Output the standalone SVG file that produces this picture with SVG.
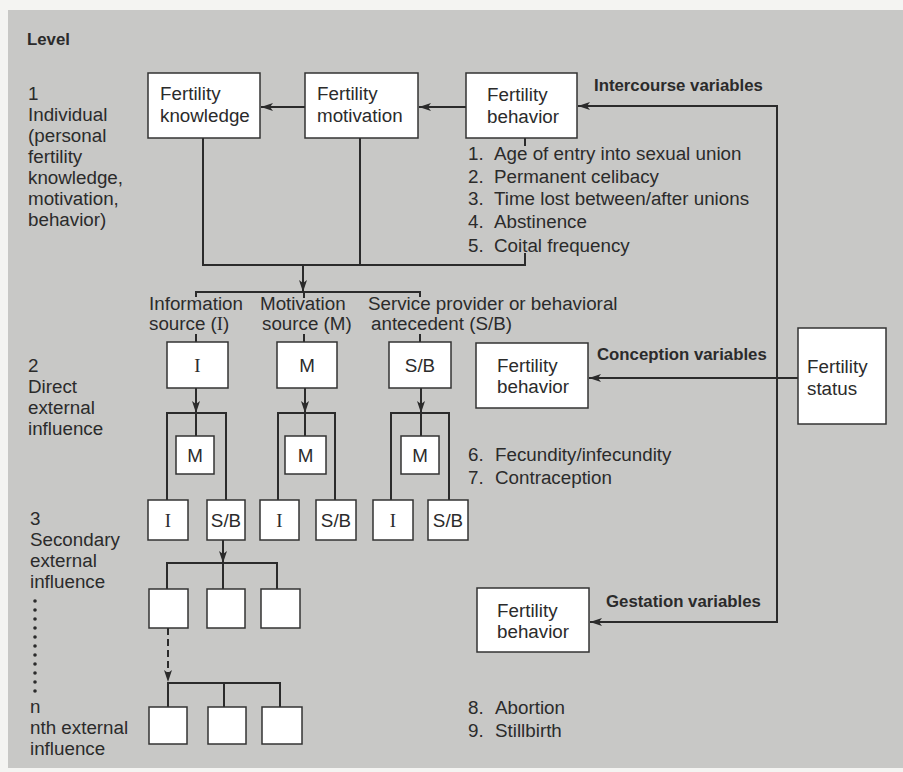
<svg xmlns="http://www.w3.org/2000/svg" width="903" height="772" viewBox="0 0 903 772">
<defs>
<marker id="ah" viewBox="0 0 12 8" refX="12" refY="4" markerWidth="12" markerHeight="8" markerUnits="userSpaceOnUse" orient="auto">
<path d="M0,0 L12,4 L0,8 L3,4 Z" fill="#2b2b2b"/>
</marker>
<style>
text{font-family:"Liberation Sans",Arial,sans-serif;fill:#2b2b2b;font-size:18.8px}
.b{font-weight:bold;font-size:16.8px}
.c{text-anchor:middle}
.s{font-family:"Liberation Serif","Times New Roman",serif}
rect.n{fill:#fff;stroke:#333;stroke-width:1.5}
.ln{fill:none;stroke:#2b2b2b;stroke-width:2}
.ar{fill:none;stroke:#2b2b2b;stroke-width:2;marker-end:url(#ah)}
</style>
</defs>
<rect x="0" y="0" width="903" height="772" fill="#f4f4f2"/>
<rect x="8" y="10" width="895" height="758" fill="#c8c8c6"/>

<g id="levels">
<text x="27" y="45" class="b">Level</text>
<text x="28" y="100">1</text>
<text x="28" y="121">Individual</text>
<text x="28" y="142">(personal</text>
<text x="28" y="163">fertility</text>
<text x="28" y="184">knowledge,</text>
<text x="28" y="205">motivation,</text>
<text x="28" y="226">behavior)</text>
<text x="28" y="372">2</text>
<text x="28" y="393">Direct</text>
<text x="28" y="414">external</text>
<text x="28" y="435">influence</text>
<text x="30" y="525">3</text>
<text x="30" y="546">Secondary</text>
<text x="30" y="567">external</text>
<text x="30" y="588">influence</text>
<g fill="#2b2b2b">
<circle cx="35" cy="601" r="1.8"/><circle cx="35" cy="610" r="1.8"/><circle cx="35" cy="619" r="1.8"/><circle cx="35" cy="628" r="1.8"/><circle cx="35" cy="637" r="1.8"/><circle cx="35" cy="646" r="1.8"/><circle cx="35" cy="655" r="1.8"/><circle cx="35" cy="664" r="1.8"/><circle cx="35" cy="673" r="1.8"/><circle cx="35" cy="682" r="1.8"/><circle cx="35" cy="691" r="1.8"/>
</g>
<text x="30" y="713">n</text>
<text x="30" y="734">nth external</text>
<text x="30" y="755">influence</text>
</g>

<g id="connectors">
<line class="ar" x1="305" y1="107" x2="261" y2="107"/>
<line class="ar" x1="466" y1="107" x2="419" y2="107"/>
<path class="ln" d="M203,138 V265 H525 V253 M525,138 V146 M360,138 V265"/>
<line class="ar" x1="303" y1="265" x2="303" y2="292"/>
<path class="ln" d="M196,297 V292 H420 V297 M196,334 V342 M304,292 V298 M304,334 V342 M420,334 V342"/>
<path class="ar" d="M777,378 V106 H578"/>
<path class="ar" d="M777,378 V622 H590"/>
<line class="ar" x1="798" y1="378" x2="589" y2="378"/>
<line class="ar" x1="196" y1="388" x2="196" y2="413"/>
<line class="ar" x1="305" y1="388" x2="305" y2="413"/>
<line class="ar" x1="421" y1="388" x2="421" y2="413"/>
<path class="ln" d="M167,500 V413 H226 V500 M196,413 V436"/>
<path class="ln" d="M278,500 V413 H335 V500 M305,413 V436"/>
<path class="ln" d="M391,500 V413 H449 V500 M421,413 V436"/>
<line class="ar" x1="223" y1="540" x2="223" y2="563"/>
<path class="ln" d="M167,589 V563 H277 V589 M223,563 V589"/>
<line class="ar" x1="168" y1="628" x2="168" y2="682" stroke-dasharray="7,4"/>
<path class="ln" d="M168,707 V683 H280 V707 M224,683 V707"/>
</g>

<g id="fertility-knowledge"><rect class="n" x="148" y="73" width="112" height="65"/><text x="160" y="100">Fertility</text><text x="160" y="122">knowledge</text></g>
<g id="fertility-motivation"><rect class="n" x="305" y="73" width="113" height="65"/><text x="317" y="100">Fertility</text><text x="317" y="122">motivation</text></g>
<g id="fertility-behavior-1"><rect class="n" x="466" y="73" width="111" height="65"/><text x="487" y="101">Fertility</text><text x="487" y="123">behavior</text></g>
<g id="intercourse-label"><text x="594" y="91" class="b">Intercourse variables</text></g>
<g id="intercourse-list">
<text x="468" y="160">1.</text><text x="494" y="160">Age of entry into sexual union</text>
<text x="468" y="183">2.</text><text x="494" y="183">Permanent celibacy</text>
<text x="468" y="205">3.</text><text x="494" y="205">Time lost between/after unions</text>
<text x="468" y="228">4.</text><text x="494" y="228">Abstinence</text>
<text x="468" y="252">5.</text><text x="494" y="252">Coital frequency</text>
</g>

<g id="source-labels">
<text x="149" y="310">Information</text><text x="149" y="330">source (<tspan class="s">I</tspan>)</text>
<text x="260" y="310">Motivation</text><text x="262" y="330">source (M)</text>
<text x="368" y="310">Service provider or behavioral</text><text x="371" y="330">antecedent (S/B)</text>
</g>

<g id="l2-I"><rect class="n" x="167" y="342" width="61" height="46"/><text x="197.5" y="372" class="c s">I</text></g>
<g id="l2-M"><rect class="n" x="277" y="342" width="60" height="46"/><text x="307" y="372" class="c">M</text></g>
<g id="l2-SB"><rect class="n" x="389" y="342" width="62" height="46"/><text x="420" y="372" class="c">S/B</text></g>

<g id="l2b-M1"><rect class="n" x="176" y="436" width="38" height="38"/><text x="195" y="462" class="c">M</text></g>
<g id="l2b-M2"><rect class="n" x="285" y="436" width="41" height="38"/><text x="305.5" y="462" class="c">M</text></g>
<g id="l2b-M3"><rect class="n" x="401" y="436" width="38" height="38"/><text x="420" y="462" class="c">M</text></g>

<g id="l3-I1"><rect class="n" x="148" y="500" width="40" height="40"/><text x="168" y="527" class="c s">I</text></g>
<g id="l3-SB1"><rect class="n" x="207" y="500" width="38" height="40"/><text x="226" y="527" class="c">S/B</text></g>
<g id="l3-I2"><rect class="n" x="260" y="500" width="39" height="40"/><text x="279.5" y="527" class="c s">I</text></g>
<g id="l3-SB2"><rect class="n" x="316" y="500" width="40" height="40"/><text x="336" y="527" class="c">S/B</text></g>
<g id="l3-I3"><rect class="n" x="373" y="500" width="40" height="40"/><text x="393" y="527" class="c s">I</text></g>
<g id="l3-SB3"><rect class="n" x="428" y="500" width="40" height="40"/><text x="448" y="527" class="c">S/B</text></g>

<g id="sec-1"><rect class="n" x="149" y="589" width="39" height="39"/></g>
<g id="sec-2"><rect class="n" x="207" y="589" width="38" height="39"/></g>
<g id="sec-3"><rect class="n" x="261" y="589" width="39" height="39"/></g>
<g id="nth-1"><rect class="n" x="149" y="707" width="38" height="37"/></g>
<g id="nth-2"><rect class="n" x="208" y="707" width="38" height="37"/></g>
<g id="nth-3"><rect class="n" x="262" y="707" width="40" height="37"/></g>

<g id="fertility-behavior-2"><rect class="n" x="476" y="343" width="112" height="65"/><text x="497" y="372">Fertility</text><text x="497" y="393">behavior</text></g>
<g id="conception-label"><text x="597" y="360" class="b">Conception variables</text></g>
<g id="fertility-status"><rect class="n" x="798" y="328" width="88" height="96"/><text x="807" y="373">Fertility</text><text x="807" y="395">status</text></g>
<g id="conception-list">
<text x="468" y="461">6.</text><text x="495" y="461">Fecundity/infecundity</text>
<text x="468" y="484">7.</text><text x="495" y="484">Contraception</text>
</g>

<g id="fertility-behavior-3"><rect class="n" x="477" y="588" width="112" height="64"/><text x="497" y="617">Fertility</text><text x="497" y="638">behavior</text></g>
<g id="gestation-label"><text x="606" y="607" class="b">Gestation variables</text></g>
<g id="gestation-list">
<text x="468" y="714">8.</text><text x="495" y="714">Abortion</text>
<text x="468" y="737">9.</text><text x="495" y="737">Stillbirth</text>
</g>
</svg>
